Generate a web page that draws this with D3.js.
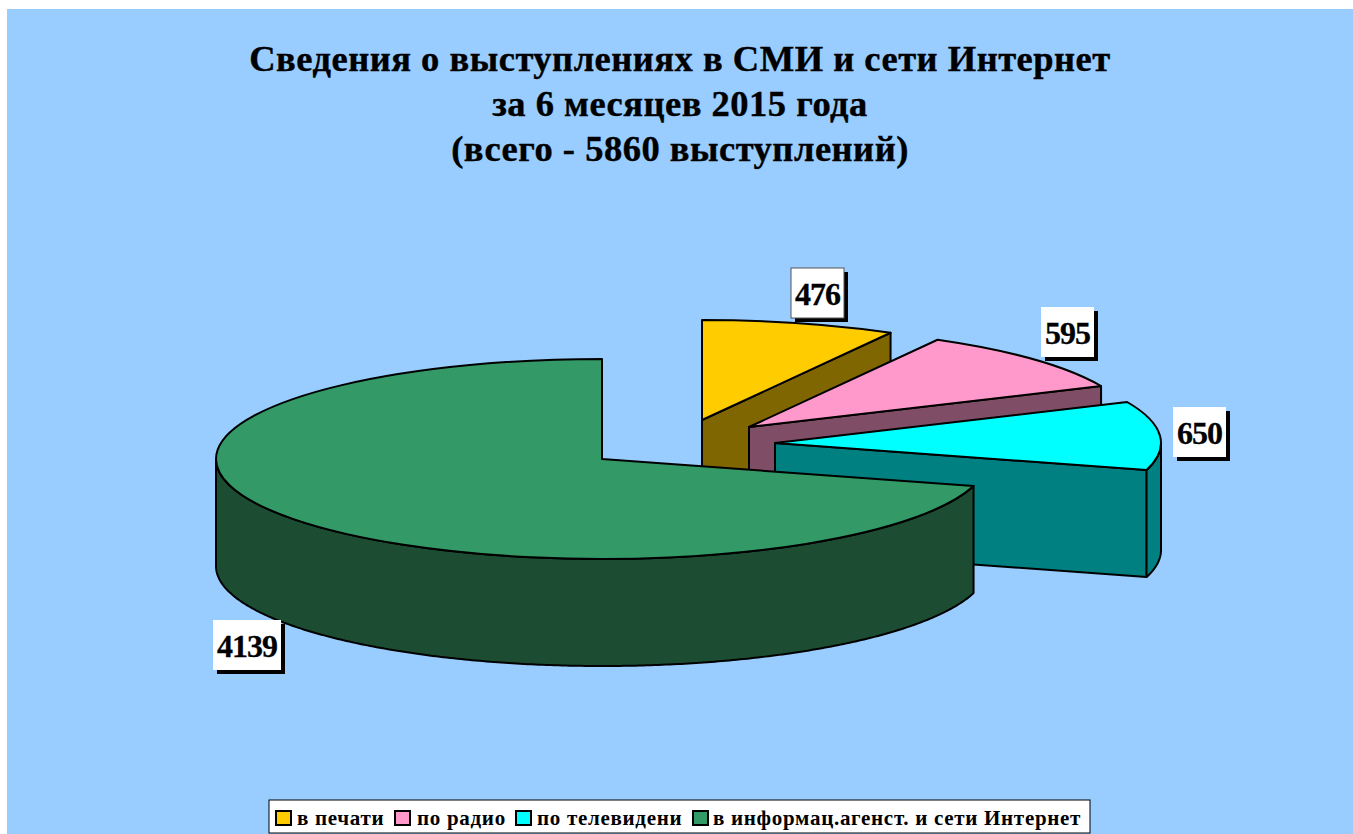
<!DOCTYPE html>
<html><head><meta charset="utf-8">
<style>html,body{margin:0;padding:0;background:#fff;overflow:hidden}svg{display:block}</style>
<script src="https://d3js.org/d3.v7.min.js"></script>
</head><body><svg id="c" width="1353" height="834"></svg>
<script>
const titleLines = ["Сведения о выступлениях в СМИ и сети Интернет","за 6 месяцев 2015 года","(всего - 5860 выступлений)"];
const categories = ["в печати","по радио","по телевидени","в информац.агенст. и сети Интернет"];
const values = [476,595,650,4139];
const topColors = ["#FFCC00","#FF99CC","#00FFFF","#339966"];
const sideColors = ["#806600","#804D66","#008080","#1C4D33"];

// layout only
const RX=386, RY=100, DEPTH=107;
const centers=[[702,420],[749,427],[775,443],[602,459]];
const labelBoxes=[[791,268,53,50],[1041,307,53,50],[1173,407,53,50],[213,620,68,50]];
const labelBorder=["#555","none","none","none"];
const legendSwatchX=[276,395,516,693], legendTextX=[297,417,537,713];

const svg=d3.select("#c");
svg.append("rect").attr("x",7).attr("y",9).attr("width",1346).attr("height",825).attr("fill","#99CCFF");
const serif="'Liberation Serif','Times New Roman',serif";

svg.append("g").selectAll("text").data(titleLines).join("text")
  .attr("x",680).attr("y",(d,i)=>71+i*45).attr("text-anchor","middle")
  .attr("font-family",serif).attr("font-weight","bold").attr("font-size",36.5).attr("letter-spacing",0.5)
  .attr("stroke","#000").attr("stroke-width",0.4).attr("fill","#000").text(d=>d);

const arcs=d3.pie().sort(null).startAngle(0).endAngle(2*Math.PI)(values);
const arcGen=d3.arc().innerRadius(0).outerRadius(RX);
const sx=t=>RX*Math.sin(t), sy=t=>-RY*Math.cos(t);
const line=d3.line();
const g=svg.append("g");
arcs.forEach((a,i)=>{
  const [cx,cy]=centers[i];
  const s=g.append("g").attr("transform",`translate(${cx},${cy})`);
  const style=sel=>sel.attr("stroke","#000").attr("stroke-width",2).attr("stroke-linejoin","round");
  // radial wall at the end of a slice (only when it faces the viewer)
  if(a.endAngle>0 && a.endAngle<Math.PI){
    const e=a.endAngle;
    const pts=[[0,0],[sx(e),sy(e)],[sx(e),sy(e)+DEPTH],[0,DEPTH]];
    s.append("path").attr("d",line(pts)+"Z").attr("fill",sideColors[i]).call(style);
  }
  // outer wall, front half of the ellipse
  const lo=Math.max(a.startAngle,Math.PI/2), hi=Math.min(a.endAngle,3*Math.PI/2);
  if(hi>lo){
    const ts=d3.range(lo,hi,0.01).concat([hi]);
    const upper=ts.map(t=>[sx(t),sy(t)]);
    const lower=ts.slice().reverse().map(t=>[sx(t),sy(t)+DEPTH]);
    s.append("path").attr("d",line(upper.concat(lower))+"Z").attr("fill",sideColors[i]).call(style);
  }
  // top face
  s.append("path").attr("transform",`scale(1,${RY/RX})`)
    .attr("d",arcGen(a)).attr("fill",topColors[i])
    .attr("stroke","#000").attr("stroke-width",2).attr("vector-effect","non-scaling-stroke").attr("stroke-linejoin","round");
});

// value labels
const lab=svg.append("g");
values.forEach((v,i)=>{
  const [x,y,w,h]=labelBoxes[i];
  lab.append("rect").attr("x",x+4).attr("y",y+4).attr("width",w).attr("height",h).attr("fill","#000");
  lab.append("rect").attr("x",x).attr("y",y).attr("width",w).attr("height",h).attr("fill","#fff").attr("stroke",labelBorder[i]);
  lab.append("text").attr("x",x+w/2).attr("y",y+37).attr("text-anchor","middle")
    .attr("font-family",serif).attr("font-weight","bold").attr("font-size",32).attr("letter-spacing",-1)
    .attr("stroke","#000").attr("stroke-width",0.3).attr("fill","#000").text(v);
});

// legend
const leg=svg.append("g");
leg.append("rect").attr("x",269).attr("y",800).attr("width",821).attr("height",33)
  .attr("fill","#fff").attr("stroke","#000").attr("stroke-width",1);
categories.forEach((c,i)=>{
  leg.append("rect").attr("x",legendSwatchX[i]).attr("y",811).attr("width",15).attr("height",14)
    .attr("fill",topColors[i]).attr("stroke","#000").attr("stroke-width",2);
  leg.append("text").attr("x",legendTextX[i]).attr("y",825)
    .attr("font-family",serif).attr("font-weight","bold").attr("font-size",21).attr("letter-spacing",0.7).attr("fill","#000").text(c);
});
</script></body></html>
